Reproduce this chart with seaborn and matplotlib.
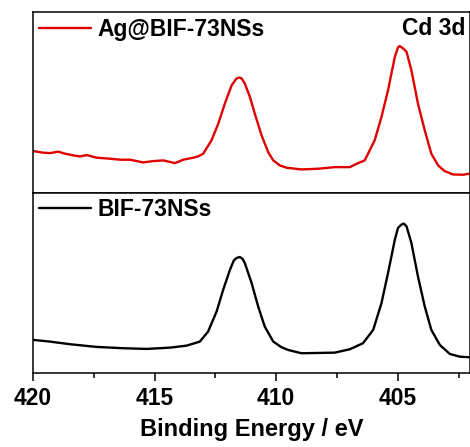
import matplotlib
matplotlib.use("Agg")
import matplotlib.pyplot as plt
import seaborn as sns
import pandas as pd
from matplotlib.ticker import MultipleLocator

sns.set_style("ticks")
plt.rcParams["font.family"] = ["Liberation Sans", "DejaVu Sans"]
plt.rcParams["font.weight"] = "bold"
plt.rcParams["text.color"] = "black"
plt.rcParams["axes.labelcolor"] = "black"
plt.rcParams["xtick.color"] = "black"
plt.rcParams["axes.edgecolor"] = "black"

# Ag@BIF-73NSs (top, red)
energy_ag = [419.99, 419.58, 419.30, 418.96, 418.68, 418.34, 418.07, 417.79, 417.38, 416.84,
             416.42, 416.01, 415.47, 415.06, 414.64, 414.16, 413.82, 413.41, 413.21, 413.00,
             412.66, 412.38, 412.11, 411.83, 411.63, 411.52, 411.42, 411.29, 411.08, 410.88,
             410.60, 410.33, 410.12, 409.85, 409.57, 408.96, 408.28, 407.59, 406.97, 406.63,
             406.36, 405.95, 405.67, 405.40, 405.12, 404.99, 404.92, 404.78, 404.64, 404.44,
             404.17, 403.89, 403.62, 403.34, 403.07, 402.73, 402.32, 402.07]
intensity_ag = [41.3, 39.7, 39.3, 40.7, 38.7, 37.0, 36.0, 37.3, 34.7, 33.7,
                32.7, 32.7, 30.0, 31.3, 32.0, 29.3, 32.7, 34.7, 36.0, 38.7,
                52.0, 68.7, 88.7, 107.0, 113.7, 114.7, 113.7, 108.7, 95.3, 78.7,
                57.0, 40.3, 32.0, 27.0, 24.7, 23.0, 23.7, 25.3, 25.3, 29.3,
                32.0, 52.0, 75.3, 102.0, 135.3, 144.7, 146.0, 143.7, 140.3, 122.0,
                88.7, 62.0, 38.7, 27.0, 21.3, 18.0, 17.7, 18.7]

# BIF-73NSs (bottom, black)
energy_bif = [419.99, 419.30, 418.48, 417.38, 416.29, 415.33, 414.37, 413.68, 413.14, 412.80,
              412.45, 412.18, 411.90, 411.74, 411.63, 411.49, 411.38, 411.29, 411.01, 410.74,
              410.47, 410.12, 409.78, 409.51, 408.96, 407.59, 406.97, 406.43, 406.01, 405.67,
              405.40, 405.12, 404.99, 404.85, 404.75, 404.64, 404.44, 404.17, 403.89, 403.62,
              403.27, 402.86, 402.45, 402.07]
intensity_bif = [33.0, 31.3, 28.7, 26.0, 24.7, 24.0, 25.3, 27.3, 31.3, 41.3,
                 61.3, 83.0, 103.0, 112.3, 114.7, 115.7, 113.7, 109.7, 89.7, 66.3,
                 46.3, 31.3, 25.7, 23.0, 19.7, 20.3, 23.7, 29.7, 43.0, 69.7,
                 99.7, 133.0, 144.7, 148.0, 149.0, 146.3, 129.7, 96.3, 66.3, 43.0,
                 28.0, 19.0, 16.3, 15.7]

label_ag = "Ag@BIF-73NSs"
label_bif = "BIF-73NSs"
x_ticks = [420, 415, 410, 405]
x_label = "Binding Energy / eV"
annot = "Cd 3d"

df_ag = pd.DataFrame({"E": energy_ag, "I": intensity_ag})
df_bif = pd.DataFrame({"E": energy_bif, "I": intensity_bif})

fig = plt.figure(figsize=(4.70, 4.47), dpi=100)
left, right, top, bottom = 33 / 470, 469.5 / 470, 1 - 12 / 447, 1 - 373 / 447
h = (top - bottom) / 2
ax1 = fig.add_axes([left, bottom + h, right - left, h])
ax2 = fig.add_axes([left, bottom, right - left, h], sharex=ax1)

sns.lineplot(data=df_ag, x="E", y="I", ax=ax1, color="#E00000", lw=1.7,
             sort=False, estimator=None, label=label_ag)
sns.lineplot(data=df_bif, x="E", y="I", ax=ax2, color="black", lw=1.7,
             sort=False, estimator=None, label=label_bif)

for ax in (ax1, ax2):
    ax.set_ylim(0, 180)
    ax.set_yticks([])
    ax.set_ylabel("")
    for s in ax.spines.values():
        s.set_linewidth(1.1)
        s.set_color("black")
        s.set_visible(True)
    leg = ax.legend(loc="upper left", frameon=False, fontsize=16.5,
                    handlelength=2.3, handletextpad=0.25,
                    borderaxespad=0.15, borderpad=0.1)
    for t in leg.get_texts():
        t.set_fontweight("bold")
        t.set_color("black")

ax1.set_xlim(420, 402.05)
ax1.tick_params(axis="x", which="both", bottom=False, labelbottom=False)
ax1.set_xlabel("")
ax1.text(0.991, 0.874, annot, transform=ax1.transAxes, ha="right", va="baseline",
         fontsize=16.5, fontweight="bold", color="black")

ax2.set_xticks(x_ticks)
ax2.xaxis.set_minor_locator(MultipleLocator(2.5))
ax2.tick_params(axis="x", which="major", direction="out", length=6, width=1.1,
                labelsize=16.5, pad=4, colors="black")
ax2.tick_params(axis="x", which="minor", direction="out", length=3.6, width=1.1,
                colors="black")
for t in ax2.get_xticklabels():
    t.set_fontweight("bold")
ax2.set_xlabel(x_label, fontsize=17, fontweight="bold", labelpad=6, color="black")

fig.savefig("out.png", dpi=100)
